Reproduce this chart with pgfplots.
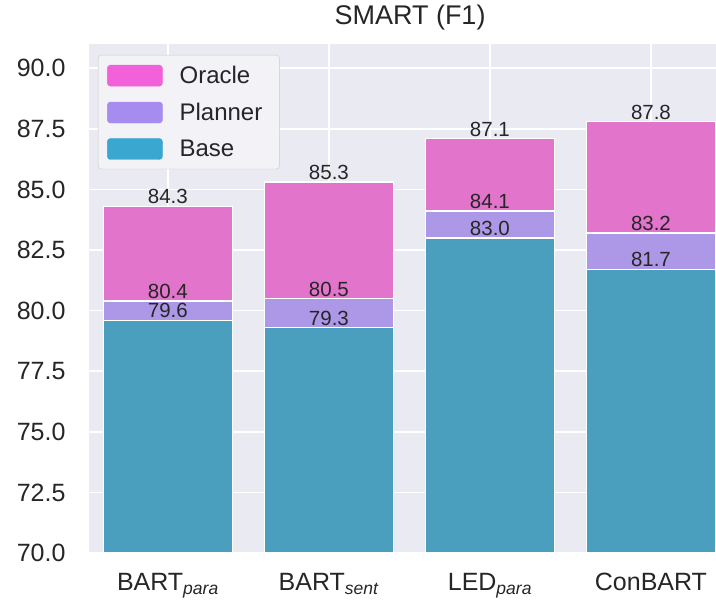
\documentclass[border=0pt]{standalone}
\usepackage{fontspec}
\setmainfont{Liberation Sans}
\usepackage{pgfplots}
\pgfplotsset{compat=1.18}
\definecolor{bgc}{HTML}{EAEAF2}
\definecolor{txt}{HTML}{262626}
\definecolor{orab}{HTML}{E274CB}
\definecolor{plab}{HTML}{AC98E6}
\definecolor{basb}{HTML}{4A9FBF}
\definecolor{oral}{HTML}{F261DA}
\definecolor{plal}{HTML}{A68CEF}
\definecolor{basl}{HTML}{3AA7D1}
\begin{document}
\begin{tikzpicture}
\begin{axis}[
  at={(0pt,0pt)}, anchor=south west,
  scale only axis, width=627pt, height=509pt,
  xmin=-0.49, xmax=3.404, ymin=70, ymax=91,
  axis background/.style={fill=bgc},
  axis line style={draw=none},
  major tick length=0pt,
  grid=major, major grid style={white, line width=1.5pt},
  xtick={0,1,2,3},
  xticklabels={BART\textsubscript{\textit{para}}, BART\textsubscript{\textit{sent}}, LED\textsubscript{\textit{para}}, ConBART},
  ytick={70,72.5,75,77.5,80,82.5,85,87.5,90},
  /pgf/number format/assume math mode=true,
  yticklabel style={/pgf/number format/.cd, fixed, fixed zerofill, precision=1, /tikz/.cd, font=\fontsize{25}{28}\selectfont, text=txt, xshift=-20pt},
  xticklabel style={font=\fontsize{25}{28}\selectfont, text=txt, yshift=-17pt},
  title={SMART (F1)},
  title style={at={(rel axis cs:0.512,1)}, anchor=south, font=\fontsize{27}{30}\selectfont, text=txt, yshift=4pt},
  ybar, bar width=129pt,
  nodes near coords,
  every node near coord/.append style={font=\fontsize{20.5}{23}\selectfont, text=txt, inner sep=1.5pt, /pgf/number format/.cd, fixed, fixed zerofill, precision=1},
  legend style={at={(rel axis cs:0,1)}, anchor=north west, xshift=9pt, yshift=-11pt,
    fill=bgc!60!white, draw=black!20, rounded corners=3pt, font=\fontsize{24}{27}\selectfont, text=txt,
    inner xsep=9pt, inner ysep=9pt, row sep=14pt, nodes={inner xsep=8pt},
    /tikz/every odd column/.append style={column sep=9pt}},
  legend cell align=left,
  legend image code/.code={\fill[#1] (0pt,-10.5pt) rectangle (55pt,10.5pt);},
]
\addplot[fill=orab, draw=white, line width=1.5pt, bar shift=0pt, forget plot] coordinates {(0,84.3) (1,85.3) (2,87.1) (3,87.8)};
\addplot[fill=plab, draw=white, line width=1.5pt, bar shift=0pt, forget plot] coordinates {(0,80.4) (1,80.5) (2,84.1) (3,83.2)};
\addplot[fill=basb, draw=white, line width=1.5pt, bar shift=0pt, forget plot] coordinates {(0,79.6) (1,79.3) (2,83.0) (3,81.7)};
\addlegendimage{oral}
\addlegendentry{Oracle}
\addlegendimage{plal}
\addlegendentry{Planner}
\addlegendimage{basl}
\addlegendentry{Base}
\end{axis}
\pgfresetboundingbox
\useasboundingbox (-89pt,-49pt) rectangle (627pt,553pt);
\end{tikzpicture}
\end{document}
